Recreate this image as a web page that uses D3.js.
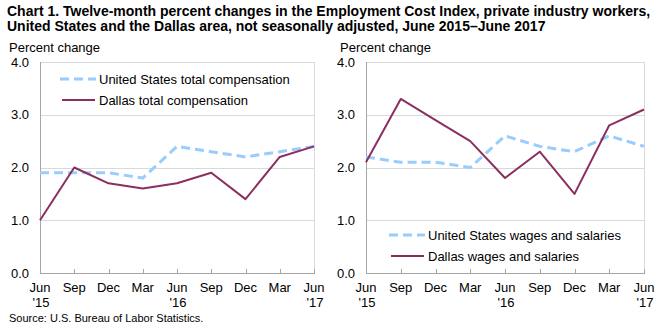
<!DOCTYPE html>
<html>
<head>
<meta charset="utf-8">
<script src="https://cdn.jsdelivr.net/npm/d3@7"></script>
<style>
  body { margin: 0; background: #fff; }
  svg { display: block; font-family: "Liberation Sans", Arial, sans-serif; }
</style>
</head>
<body>
<svg width="665" height="331"></svg>
<script>
var months = ['Jun', 'Sep', 'Dec', 'Mar', 'Jun', 'Sep', 'Dec', 'Mar', 'Jun'];
var years = ["'15", '', '', '', "'16", '', '', '', "'17"];
var yTicks = [0, 1, 2, 3, 4];

// total compensation, percent change
var usTotal = [1.9, 1.9, 1.9, 1.8, 2.4, 2.3, 2.2, 2.3, 2.4];
var dallasTotal = [1.0, 2.0, 1.7, 1.6, 1.7, 1.9, 1.4, 2.2, 2.4];

// wages and salaries, percent change
var usWages = [2.2, 2.1, 2.1, 2.0, 2.6, 2.4, 2.3, 2.6, 2.4];
var dallasWages = [2.1, 3.3, 2.9, 2.5, 1.8, 2.3, 1.5, 2.8, 3.1];

var usColor = '#99ccff',
  dalColor = '#8b2f5f';

var svg = d3.select('svg');

svg
  .append('text')
  .attr('x', 7)
  .attr('y', 16)
  .style('font', 'bold 14px "Liberation Sans Narrow", "Arial Narrow", sans-serif')
  .text('Chart 1. Twelve-month percent changes in the Employment Cost  Index, private industry  workers,');
svg
  .append('text')
  .attr('x', 7)
  .attr('y', 31)
  .style('font', 'bold 14px "Liberation Sans Narrow", "Arial Narrow", sans-serif')
  .text('United  States and the Dallas area, not seasonally  adjusted, June 2015–June  2017');

svg
  .append('text')
  .attr('x', 9)
  .attr('y', 322)
  .style('font', '11px "Liberation Sans Narrow", "Arial Narrow", sans-serif')
  .text('Source: U.S.  Bureau of Labor Statistics.');

var panels = [
  {
    left: 40, right: 314, label: 9,
    series: [usTotal, dallasTotal],
    names: ['United States total compensation', 'Dallas total compensation'],
    legend: {x: 60, y: 79},
  },
  {
    left: 366, right: 644, label: 340,
    series: [usWages, dallasWages],
    names: ['United States wages and salaries', 'Dallas wages and salaries'],
    legend: {x: 389, y: 235},
  },
];

var plotTop = 62,
  plotBottom = 273;

panels.forEach(function(p) {
  var x = d3.scalePoint().domain(d3.range(months.length)).range([p.left, p.right]);
  var y = d3.scaleLinear().domain([0, 4]).range([plotBottom, plotTop]);
  var g = svg.append('g');

  g
    .append('text')
    .attr('x', p.label)
    .attr('y', 52)
    .style('font-size', '13px')
    .attr('fill', '#000')
    .text('Percent change');

  // grid and frame
  g
    .selectAll('.grid')
    .data(yTicks.slice(1))
    .enter()
    .append('line')
    .attr('x1', p.left)
    .attr('x2', p.right)
    .attr('y1', d => Math.round(y(d)) + 0.5)
    .attr('y2', d => Math.round(y(d)) + 0.5)
    .attr('stroke', '#d9d9d9');
  g
    .append('line')
    .attr('x1', p.right + 0.5)
    .attr('x2', p.right + 0.5)
    .attr('y1', plotTop)
    .attr('y2', plotBottom)
    .attr('stroke', '#d9d9d9');
  g
    .append('line')
    .attr('x1', p.left + 0.5)
    .attr('x2', p.left + 0.5)
    .attr('y1', plotTop)
    .attr('y2', plotBottom)
    .attr('stroke', '#a6a6a6');

  g
    .selectAll('.ylab')
    .data(yTicks)
    .enter()
    .append('text')
    .attr('x', p.left - 11)
    .attr('y', d => y(d))
    .attr('dy', '0.35em')
    .attr('text-anchor', 'end')
    .style('font-size', '13px')
    .text(d => d.toFixed(1));

  // x axis, ticks point inward
  g
    .append('line')
    .attr('x1', p.left)
    .attr('x2', p.right + 1)
    .attr('y1', plotBottom + 0.5)
    .attr('y2', plotBottom + 0.5)
    .attr('stroke', '#a6a6a6');
  g
    .selectAll('.tick')
    .data(d3.range(months.length))
    .enter()
    .append('line')
    .attr('x1', d => Math.round(x(d)) + 0.5)
    .attr('x2', d => Math.round(x(d)) + 0.5)
    .attr('y1', plotBottom - 4)
    .attr('y2', plotBottom)
    .attr('stroke', '#a6a6a6');
  g
    .selectAll('.mon')
    .data(months)
    .enter()
    .append('text')
    .attr('x', (d, i) => x(i))
    .attr('y', 292)
    .attr('text-anchor', 'middle')
    .style('font-size', '13px')
    .text(d => d);
  g
    .selectAll('.yr')
    .data(years)
    .enter()
    .append('text')
    .attr('x', (d, i) => x(i) + 1)
    .attr('y', 307)
    .attr('text-anchor', 'middle')
    .style('font-size', '13px')
    .text(d => d);

  var line = d3
    .line()
    .x((d, i) => x(i))
    .y(d => y(d));

  g
    .append('path')
    .attr('d', line(p.series[0]))
    .attr('fill', 'none')
    .attr('stroke', usColor)
    .attr('stroke-width', 3)
    .attr('stroke-dasharray', '9,5');
  g
    .append('path')
    .attr('d', line(p.series[1]))
    .attr('fill', 'none')
    .attr('stroke', dalColor)
    .attr('stroke-width', 2)
    .attr('stroke-linejoin', 'round');

  // legend
  var lg = g.append('g').attr('transform', 'translate(' + p.legend.x + ',' + p.legend.y + ')');
  lg
    .append('line')
    .attr('x1', 0)
    .attr('x2', 36)
    .attr('stroke', usColor)
    .attr('stroke-width', 3)
    .attr('stroke-dasharray', '9,5');
  lg
    .append('line')
    .attr('x1', 2)
    .attr('x2', 35)
    .attr('y1', 21)
    .attr('y2', 21)
    .attr('stroke', dalColor)
    .attr('stroke-width', 2);
  lg
    .selectAll('text')
    .data(p.names)
    .enter()
    .append('text')
    .attr('x', 39)
    .attr('y', (d, i) => i * 21)
    .attr('dy', '0.35em')
    .style('font-size', '13px')
    .text(d => d);
});
</script>
</body>
</html>
